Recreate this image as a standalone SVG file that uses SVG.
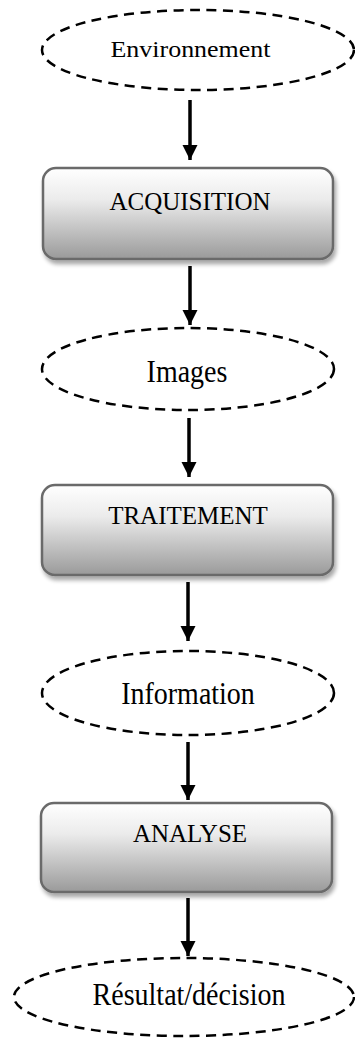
<svg xmlns="http://www.w3.org/2000/svg" width="355" height="1038" viewBox="0 0 355 1038">
  <defs>
    <linearGradient id="boxFill" x1="0" y1="0" x2="0" y2="1">
      <stop offset="0" stop-color="#ffffff"/>
      <stop offset="0.35" stop-color="#ebebeb"/>
      <stop offset="1" stop-color="#9a9a9a"/>
    </linearGradient>
    <filter id="shadow" x="-10%" y="-10%" width="125%" height="130%">
      <feGaussianBlur in="SourceAlpha" stdDeviation="2"/>
      <feOffset dx="2" dy="4" result="blur"/>
      <feComponentTransfer><feFuncA type="linear" slope="0.35"/></feComponentTransfer>
      <feMerge><feMergeNode/><feMergeNode in="SourceGraphic"/></feMerge>
    </filter>
    <marker id="head" viewBox="0 0 10 10" refX="10" refY="5" markerWidth="4.3" markerHeight="4.3" orient="auto" markerUnits="strokeWidth">
      <path d="M0,0 L10,5 L0,10 Z" fill="#000"/>
    </marker>
  </defs>
  <style>
    .state { fill: #ffffff; stroke: #000; stroke-width: 2.5; stroke-dasharray: 10 6.5; }
    .step { fill: url(#boxFill); stroke: #6a6a6a; stroke-width: 2.5; filter: url(#shadow); }
    .lbl { font-family: "Liberation Serif", "Times New Roman", serif; fill: #000; text-anchor: middle; }
    .box { font-size: 25px; }
    .big { font-size: 28px; }
    .edge { stroke: #000; stroke-width: 3.5; fill: none; marker-end: url(#head); }
  </style>

  <g id="connectors">
    <line class="edge" x1="190" y1="100" x2="190" y2="160"/>
    <line class="edge" x1="190" y1="266" x2="190" y2="325"/>
    <line class="edge" x1="189" y1="418" x2="189" y2="477"/>
    <line class="edge" x1="188" y1="582" x2="188" y2="641"/>
    <line class="edge" x1="188" y1="742" x2="188" y2="800"/>
    <line class="edge" x1="188" y1="898" x2="188" y2="956"/>
  </g>

  <g id="environnement">
    <ellipse class="state" cx="198" cy="50" rx="156" ry="40"/>
    <text class="lbl" x="190.5" y="57" font-size="24" textLength="160" lengthAdjust="spacingAndGlyphs">Environnement</text>
  </g>

  <g id="acquisition">
    <rect class="step" x="43" y="168" width="290" height="91" rx="13"/>
    <text class="lbl box" x="190" y="210">ACQUISITION</text>
  </g>

  <g id="images">
    <ellipse class="state" cx="188" cy="369" rx="146" ry="41"/>
    <text class="lbl big" transform="translate(187 382) scale(1 1.12)">Images</text>
  </g>

  <g id="traitement">
    <rect class="step" x="42" y="485" width="291" height="90" rx="13"/>
    <text class="lbl box" x="188" y="524">TRAITEMENT</text>
  </g>

  <g id="information">
    <ellipse class="state" cx="188" cy="693" rx="146" ry="42"/>
    <text class="lbl big" transform="translate(188 704) scale(1 1.12)">Information</text>
  </g>

  <g id="analyse">
    <rect class="step" x="41" y="803" width="291" height="89" rx="13"/>
    <text class="lbl box" x="190" y="842">ANALYSE</text>
  </g>

  <g id="resultat">
    <ellipse class="state" cx="184" cy="997" rx="170" ry="39"/>
    <text class="lbl big" transform="translate(189 1005) scale(1 1.14)">Résultat/décision</text>
  </g>
</svg>
